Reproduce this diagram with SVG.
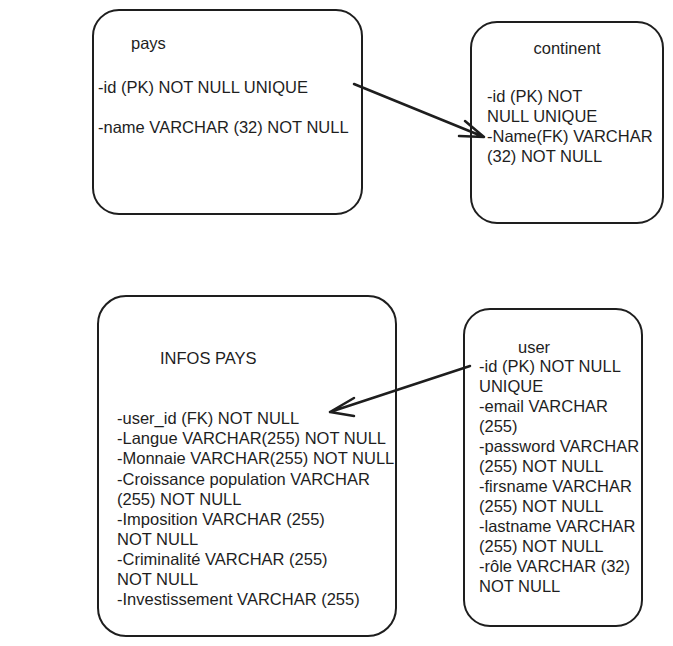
<svg xmlns="http://www.w3.org/2000/svg" width="673" height="646" viewBox="0 0 673 646">
<style>
.box{fill:#fff;stroke:#1e1e1e;stroke-width:2}
.t{font-family:"Liberation Sans",Arial,sans-serif;font-size:16.5px;fill:#1e1e1e}
.c{fill:none;stroke:#1e1e1e;stroke-width:2.5;stroke-linecap:round;stroke-linejoin:round}
</style>
<rect width="673" height="646" fill="#fff"/>
<g id="pays">
<rect class="box" x="93" y="10" width="269" height="204" rx="26"/>
<text class="t" x="131" y="49">pays</text>
<text class="t" x="98" y="93">-id (PK) NOT NULL UNIQUE</text>
<text class="t" x="98" y="133">-name VARCHAR (32) NOT NULL</text>
</g>
<g id="continent">
<rect class="box" x="471" y="22" width="192" height="201" rx="26"/>
<text class="t" x="567" y="54" text-anchor="middle">continent</text>
<text class="t" x="487" y="102">-id (PK) NOT</text>
<text class="t" x="487" y="122">NULL UNIQUE</text>
<text class="t" x="487" y="142">-Name(FK) VARCHAR</text>
<text class="t" x="487" y="162">(32) NOT NULL</text>
</g>
<g id="infos_pays">
<rect class="box" x="98" y="296" width="298" height="340" rx="28"/>
<text class="t" x="160" y="364">INFOS PAYS</text>
<text class="t" x="117" y="424">-user_id (FK) NOT NULL</text>
<text class="t" x="117" y="444">-Langue VARCHAR(255) NOT NULL</text>
<text class="t" x="117" y="464">-Monnaie VARCHAR(255) NOT NULL</text>
<text class="t" x="117" y="485">-Croissance population VARCHAR</text>
<text class="t" x="117" y="505">(255) NOT NULL</text>
<text class="t" x="117" y="525">-Imposition VARCHAR (255)</text>
<text class="t" x="117" y="545">NOT NULL</text>
<text class="t" x="117" y="565">-Criminalité VARCHAR (255)</text>
<text class="t" x="117" y="585">NOT NULL</text>
<text class="t" x="117" y="605">-Investissement VARCHAR (255)</text>
</g>
<g id="user">
<rect class="box" x="464" y="309" width="178" height="317" rx="26"/>
<text class="t" x="518" y="353">user</text>
<text class="t" x="479" y="372">-id (PK) NOT NULL</text>
<text class="t" x="479" y="392">UNIQUE</text>
<text class="t" x="479" y="412">-email VARCHAR</text>
<text class="t" x="479" y="432">(255)</text>
<text class="t" x="479" y="452">-password VARCHAR</text>
<text class="t" x="479" y="472">(255) NOT NULL</text>
<text class="t" x="479" y="492">-firsname VARCHAR</text>
<text class="t" x="479" y="512">(255) NOT NULL</text>
<text class="t" x="479" y="532">-lastname VARCHAR</text>
<text class="t" x="479" y="552">(255) NOT NULL</text>
<text class="t" x="479" y="572">-rôle VARCHAR (32)</text>
<text class="t" x="479" y="592">NOT NULL</text>
</g>
<g id="connectors">
<path class="c" d="M354 84 L484 137 M465 121 L484 137 L459 136"/>
<path class="c" d="M470 366 L330 412 M354 398 L330 412 L354 416"/>
</g>
</svg>
